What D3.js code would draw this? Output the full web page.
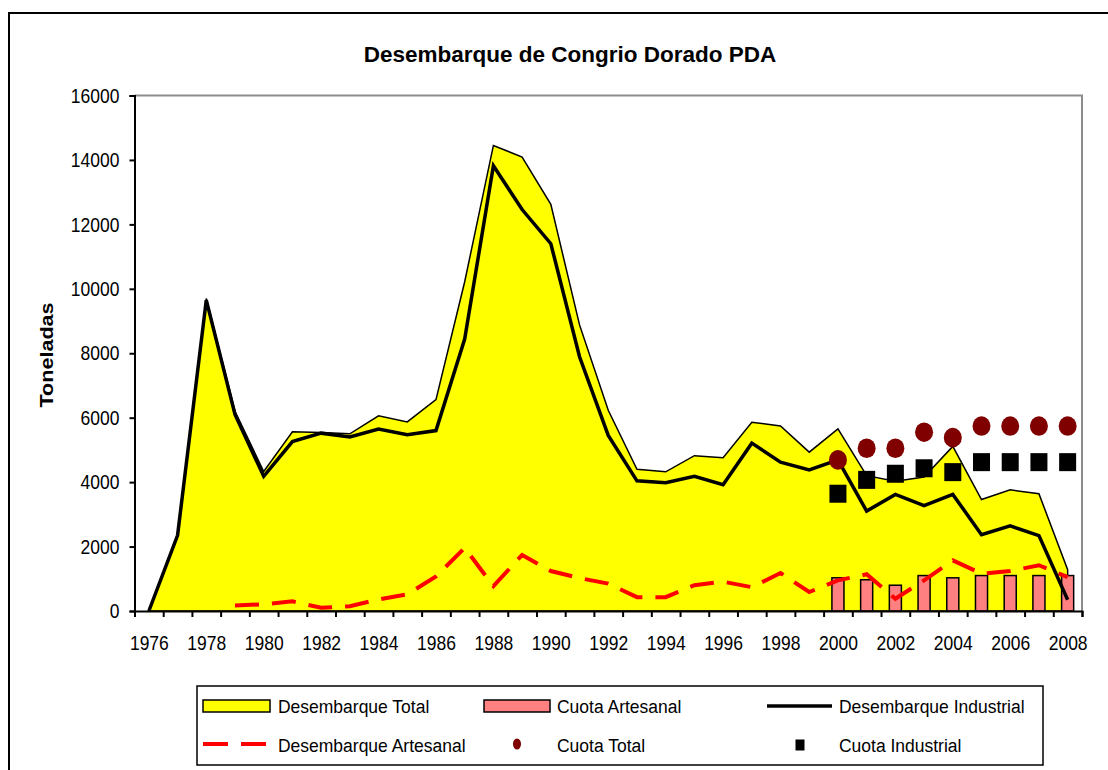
<!DOCTYPE html>
<html>
<head>
<meta charset="utf-8">
<script src="https://cdn.jsdelivr.net/npm/d3@7"></script>
<style>
  body { margin: 0; background: #fff; }
  text { font-family: "Liberation Sans", Arial, sans-serif; fill: #000; }
</style>
</head>
<body>
<svg id="chart_svg"></svg>
<script>
// years on the category axis
var years = d3.range(1976, 2009);
var yTicks = [0, 2000, 4000, 6000, 8000, 10000, 12000, 14000, 16000];
var xLabelYears = d3.range(1976, 2009, 2);

// landings (tonnes), 1976-2008
var desembarqueTotal = [0, 2350, 9700, 6200, 4330, 5560, 5540, 5500, 6060, 5870, 6560,
    10220, 14450, 14090, 12620, 8880, 6230, 4400, 4320, 4820, 4760, 5860, 5740, 4930,
    5650, 4200, 4030, 4160, 5110, 3460, 3760, 3640, 1280];
var desembarqueIndustrial = [0, 2350, 9650, 6100, 4180, 5260, 5520, 5400, 5650, 5470, 5600,
    8440, 13820, 12460, 11400, 7890, 5450, 4040, 3980, 4180, 3920, 5210, 4620, 4380,
    4690, 3100, 3620, 3270, 3620, 2370, 2640, 2340, 350];
var desembarqueArtesanal = [null, null, null, 170, 210, 300, 100, 150, 360, 520, 1070,
    1960, 770, 1740, 1240, 1020, 850, 430, 430, 800, 910, 740, 1180, 590,
    950, 1140, 380, 950, 1570, 1160, 1240, 1420, 1050];

// quotas, 2000-2008
var cuotaYears = d3.range(2000, 2009);
var cuotaArtesanal = [1030, 970, 800, 1100, 1030, 1100, 1100, 1100, 1100];
var cuotaTotal = [4690, 5050, 5050, 5550, 5380, 5740, 5740, 5740, 5740];
var cuotaIndustrial = [3640, 4070, 4260, 4430, 4310, 4620, 4620, 4620, 4620];

var legendLabels = ["Desembarque Total", "Cuota Artesanal", "Desembarque Industrial",
    "Desembarque Artesanal", "Cuota Total", "Cuota Industrial"];

var width = 1108,
    height = 770,
    plotLeft = 134.5, plotRight = 1082,
    plotTop = 95.5, plotBottom = 611;

var svg = d3.select("#chart_svg")
    .attr("width", width)
    .attr("height", height);

// outer chart border (cut off at right / bottom)
svg.append("rect")
    .attr("x", 9).attr("y", 13)
    .attr("width", 1200).attr("height", 800)
    .style("fill", "#fff")
    .style("stroke", "#000")
    .style("stroke-width", 2);

var x = d3.scaleLinear()
    .domain([years[0] - 0.5, years[years.length - 1] + 0.5])
    .range([plotLeft, plotRight]);

var xBand = d3.scaleBand()
    .domain(years)
    .range([plotLeft, plotRight])
    .paddingInner(0.58)
    .paddingOuter(0.29);

var y = d3.scaleLinear()
    .domain([0, 16000])
    .range([plotBottom, plotTop]);

var rows = years.map(function (yr, i) {
    return {
        year: yr,
        total: desembarqueTotal[i],
        ind: desembarqueIndustrial[i],
        art: desembarqueArtesanal[i]
    };
});
var cuotas = cuotaYears.map(function (yr, i) {
    return { year: yr, art: cuotaArtesanal[i], total: cuotaTotal[i], ind: cuotaIndustrial[i] };
});

// plot area frame (grey top / right)
svg.append("path")
    .attr("d", "M" + plotLeft + "," + plotTop + "H" + plotRight + "V" + plotBottom)
    .style("fill", "none")
    .style("stroke", "#8c8c8c")
    .style("stroke-width", 2);

var g = svg.append("g");

g.append("path")
    .datum(rows)
    .attr("d", d3.area()
        .x(function (d) { return x(d.year); })
        .y0(y(0))
        .y1(function (d) { return y(d.total); }))
    .style("fill", "#ffff00")
    .style("stroke", "#000")
    .style("stroke-width", 1.5)
    .style("stroke-linejoin", "miter");

g.selectAll("rect.cuota-art")
    .data(cuotas)
    .enter()
    .append("rect")
    .attr("class", "cuota-art")
    .attr("x", function (d) { return xBand(d.year); })
    .attr("width", xBand.bandwidth())
    .attr("y", function (d) { return y(d.art); })
    .attr("height", function (d) { return y(0) - y(d.art); })
    .style("fill", "#ff8080")
    .style("stroke", "#000")
    .style("stroke-width", 1.5);

g.append("path")
    .datum(rows)
    .attr("d", d3.line()
        .defined(function (d) { return d.art !== null; })
        .x(function (d) { return x(d.year); })
        .y(function (d) { return y(d.art); }))
    .style("fill", "none")
    .style("stroke", "#ff0000")
    .style("stroke-width", 4)
    .style("stroke-dasharray", "24,13");

g.append("path")
    .datum(rows)
    .attr("d", d3.line()
        .x(function (d) { return x(d.year); })
        .y(function (d) { return y(d.ind); }))
    .style("fill", "none")
    .style("stroke", "#000")
    .style("stroke-width", 3.5)
    .style("stroke-linejoin", "miter");

g.selectAll("ellipse")
    .data(cuotas)
    .enter()
    .append("ellipse")
    .attr("cx", function (d) { return x(d.year); })
    .attr("cy", function (d) { return y(d.total); })
    .attr("rx", 9)
    .attr("ry", 9.8)
    .style("fill", "#800000");

g.selectAll("rect.cuota-ind")
    .data(cuotas)
    .enter()
    .append("rect")
    .attr("class", "cuota-ind")
    .attr("x", function (d) { return x(d.year) - 8.5; })
    .attr("y", function (d) { return y(d.ind) - 9; })
    .attr("width", 17)
    .attr("height", 18)
    .style("fill", "#000");

// axes
var yAxis = svg.append("g")
    .attr("transform", "translate(" + plotLeft + ",0)")
    .call(d3.axisLeft(y).tickValues(yTicks).tickSize(5).tickPadding(10).tickFormat(d3.format("d")));

var xTickAxis = svg.append("g")
    .attr("transform", "translate(0," + plotBottom + ")")
    .call(d3.axisBottom(x).tickValues(d3.range(years[0] - 0.5, years[years.length - 1] + 1, 1))
        .tickSize(6).tickFormat(""));

var xLabelAxis = svg.append("g")
    .attr("transform", "translate(0," + plotBottom + ")")
    .call(d3.axisBottom(x).tickValues(xLabelYears).tickSize(0).tickPadding(20).tickFormat(d3.format("d")));

xLabelAxis.select(".domain").remove();

svg.selectAll(".domain, .tick line")
    .style("stroke", "#000")
    .style("stroke-width", 2);

svg.selectAll(".tick text")
    .style("font-family", "'Liberation Sans', Arial, sans-serif")
    .style("font-size", "17.5px")
    .attr("transform", "scale(1,1.2)");

// axis title + chart title
svg.append("text")
    .attr("transform", "translate(53,355) scale(1,1.2) rotate(-90)")
    .attr("text-anchor", "middle")
    .style("font-size", "18px")
    .style("font-weight", "bold")
    .text("Toneladas");

svg.append("text")
    .attr("x", 570)
    .attr("y", 62)
    .attr("text-anchor", "middle")
    .style("font-size", "22.5px")
    .style("font-weight", "bold")
    .text("Desembarque de Congrio Dorado PDA");

// legend
var legend = svg.append("g");

legend.append("rect")
    .attr("x", 197).attr("y", 686)
    .attr("width", 846).attr("height", 79)
    .style("fill", "#fff")
    .style("stroke", "#000")
    .style("stroke-width", 1.5);

var textX = [278, 557, 839],
    rowY = [706, 745];

legendLabels.forEach(function (label, i) {
    var col = i % 3, row = Math.floor(i / 3);
    legend.append("text")
        .attr("transform", "translate(" + textX[col] + "," + (rowY[row] + 7) + ") scale(1,1.1)")
        .style("font-size", "17.5px")
        .text(label);
});

legend.append("rect")
    .attr("x", 203).attr("y", 700).attr("width", 67).attr("height", 12)
    .style("fill", "#ffff00").style("stroke", "#000").style("stroke-width", 1.5);

legend.append("rect")
    .attr("x", 484).attr("y", 700).attr("width", 66).attr("height", 12)
    .style("fill", "#ff8080").style("stroke", "#000").style("stroke-width", 1.5);

legend.append("line")
    .attr("x1", 767).attr("x2", 832).attr("y1", 706).attr("y2", 706)
    .style("stroke", "#000").style("stroke-width", 3.5);

legend.append("line")
    .attr("x1", 203).attr("x2", 266).attr("y1", 744).attr("y2", 744)
    .style("stroke", "#ff0000").style("stroke-width", 4).style("stroke-dasharray", "25,13");

legend.append("ellipse")
    .attr("cx", 517).attr("cy", 744).attr("rx", 4).attr("ry", 5.5)
    .style("fill", "#800000");

legend.append("rect")
    .attr("x", 795.5).attr("y", 739.5).attr("width", 9).attr("height", 11)
    .style("fill", "#000");
</script>
</body>
</html>
